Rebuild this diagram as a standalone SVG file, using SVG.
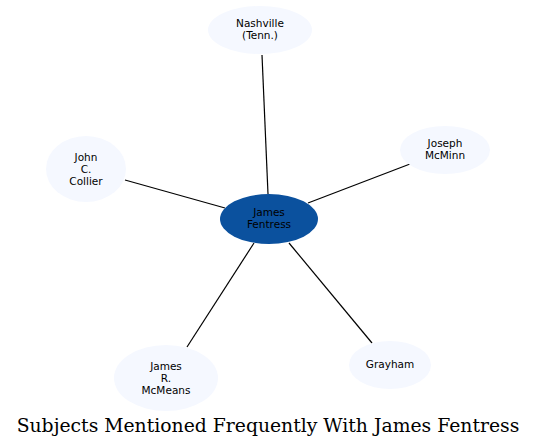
<svg xmlns="http://www.w3.org/2000/svg" width="537" height="448" viewBox="0 0 537 448">
<style>
.n{fill:#f5f8ff;stroke:none}
.c{fill:#0b519e;stroke:none}
.t{font-family:"DejaVu Sans",sans-serif;font-size:10.5px;fill:#000;text-anchor:middle}
.e{stroke:#000;stroke-width:1.2;fill:none}
.title{font-family:"DejaVu Serif",serif;font-size:18.8px;fill:#000;text-anchor:middle}
</style>
<rect width="537" height="448" fill="#fff"/>
<g id="edges">
<line class="e" x1="268" y1="194" x2="262" y2="55"/>
<line class="e" x1="225" y1="208" x2="125" y2="180"/>
<line class="e" x1="308" y1="203" x2="410" y2="164"/>
<line class="e" x1="254" y1="243" x2="187" y2="347"/>
<line class="e" x1="289" y1="243" x2="372" y2="343"/>
</g>
<g id="nashville">
<ellipse class="n" cx="260" cy="30" rx="52" ry="24"/>
<text class="t" x="260" y="27">Nashville</text>
<text class="t" x="260" y="39">(Tenn.)</text>
</g>
<g id="collier">
<ellipse class="n" cx="86" cy="169" rx="40" ry="33"/>
<text class="t" x="86" y="161">John</text>
<text class="t" x="86" y="173">C.</text>
<text class="t" x="86" y="185">Collier</text>
</g>
<g id="mcminn">
<ellipse class="n" cx="445" cy="150" rx="45" ry="24"/>
<text class="t" x="445" y="147">Joseph</text>
<text class="t" x="445" y="159">McMinn</text>
</g>
<g id="fentress">
<ellipse class="c" cx="269" cy="219" rx="49" ry="25"/>
<text class="t" x="269" y="216">James</text>
<text class="t" x="269" y="228">Fentress</text>
</g>
<g id="mcmeans">
<ellipse class="n" cx="166" cy="378" rx="52" ry="33"/>
<text class="t" x="166" y="370">James</text>
<text class="t" x="166" y="382">R.</text>
<text class="t" x="166" y="394">McMeans</text>
</g>
<g id="grayham">
<ellipse class="n" cx="390" cy="365" rx="41" ry="24"/>
<text class="t" x="390" y="368">Grayham</text>
</g>
<text class="title" x="268" y="432">Subjects Mentioned Frequently With James Fentress</text>
</svg>
